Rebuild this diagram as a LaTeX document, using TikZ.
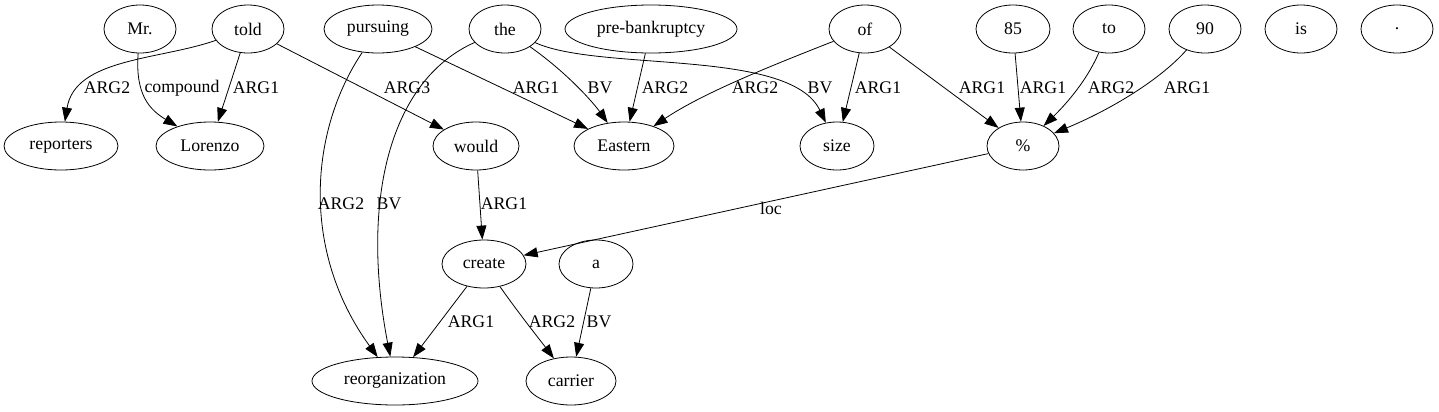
\documentclass[tikz,border=0pt]{standalone}
\usepackage{fontspec}
\setmainfont{Liberation Serif}
\usetikzlibrary{shapes.geometric,arrows.meta}
\begin{document}
\begin{tikzpicture}[x=0.75pt,y=-0.75pt,
  tok/.style={ellipse,draw,line width=0.6pt,inner sep=0pt,minimum height=36pt,font=\fontsize{13.3pt}{15pt}\selectfont},
  lab/.style={inner sep=0pt,font=\fontsize{13.3pt}{15pt}\selectfont},
  arc/.style={draw,line width=0.6pt,-{Triangle[length=10.5pt,width=7.5pt]}}]
\useasboundingbox (0,0) rectangle (1439,411);
% row 1
\node[tok,minimum width=54pt] (mr) at (140,29) {Mr.};
\node[tok,minimum width=54pt] (told) at (248,29) {told};
\node[tok,minimum width=81pt] (pursuing) at (378,29) {pursuing};
\node[tok,minimum width=54pt] (the) at (505,29) {the};
\node[tok,minimum width=129pt] (pre) at (651,29) {pre-bankruptcy};
\node[tok,minimum width=54pt] (of) at (865,29) {of};
\node[tok,minimum width=55.5pt] (n85) at (1013,29) {85};
\node[tok,minimum width=54pt] (to) at (1109,29) {to};
\node[tok,minimum width=54pt] (n90) at (1205,29) {90};
\node[tok,minimum width=54pt] (is) at (1301,29) {is};
\node[tok,minimum width=54pt] (dot) at (1397,29) {.};
% row 2
\node[tok,minimum width=85.5pt] (reporters) at (61,146) {reporters};
\node[tok,minimum width=81pt] (lorenzo) at (210,146) {Lorenzo};
\node[tok,minimum width=64.5pt] (would) at (476,146) {would};
\node[tok,minimum width=75pt] (eastern) at (624,146) {Eastern};
\node[tok,minimum width=55.5pt] (size) at (837,146) {size};
\node[tok,minimum width=54pt] (pct) at (1023,146) {\%};
% row 3
\node[tok,minimum width=63pt] (create) at (484,264) {create};
\node[tok,minimum width=55.5pt] (a) at (596,264) {a};
% row 4
\node[tok,minimum width=124.5pt] (reorg) at (395,381) {reorganization};
\node[tok,minimum width=67.5pt] (carrier) at (571,381) {carrier};
% edges
\path[arc] (told) .. controls (160,60) and (75,58) .. (reporters);
\path[arc] (mr) .. controls (135,95) and (150,110) .. (lorenzo);
\path[arc] (told) -- (lorenzo);
\path[arc] (told) -- (would);
\path[arc] (pursuing) -- (eastern);
\path[arc] (the) .. controls (570,75) and (595,105) .. (eastern);
\path[arc] (pre) -- (eastern);
\path[arc] (of) .. controls (760,70) and (700,95) .. (eastern);
\path[arc] (the) .. controls (600,72) and (790,48) .. (size);
\path[arc] (of) -- (size);
\path[arc] (of) -- (pct);
\path[arc] (n85) -- (pct);
\path[arc] (to) .. controls (1085,85) and (1060,110) .. (pct);
\path[arc] (n90) .. controls (1160,80) and (1110,110) .. (pct);
\path[arc] (pursuing) .. controls (310,130) and (300,250) .. (reorg);
\path[arc] (the) .. controls (390,80) and (360,200) .. (reorg);
\path[arc] (would) -- (create);
\path[arc] (pct) -- (create);
\path[arc] (create) -- (reorg);
\path[arc] (create) .. controls (520,315) and (540,340) .. (carrier);
\path[arc] (a) -- (carrier);
% labels
\node[lab] (l1) at (107,88) {ARG2};
\node[lab] (l2) at (182,88) {compound};
\node[lab] (l3) at (256,88) {ARG1};
\node[lab] (l4) at (407,88) {ARG3};
\node[lab] (l5) at (536,88) {ARG1};
\node[lab] (l6) at (600,88) {BV};
\node[lab] (l7) at (665,88) {ARG2};
\node[lab] (l8) at (755,88) {ARG2};
\node[lab] (l9) at (820,88) {BV};
\node[lab] (l10) at (878,88) {ARG1};
\node[lab] (l11) at (982,88) {ARG1};
\node[lab] (l12) at (1043,88) {ARG1};
\node[lab] (l13) at (1111,88) {ARG2};
\node[lab] (l14) at (1187,88) {ARG1};
\node[lab] (l15) at (341,204) {ARG2};
\node[lab] (l16) at (389,204) {BV};
\node[lab] (l17) at (504,204) {ARG1};
\node[lab] (l18) at (771,208) {loc};
\node[lab] (l19) at (471,322) {ARG1};
\node[lab] (l20) at (552,322) {ARG2};
\node[lab] (l21) at (599,322) {BV};
\end{tikzpicture}
\end{document}
